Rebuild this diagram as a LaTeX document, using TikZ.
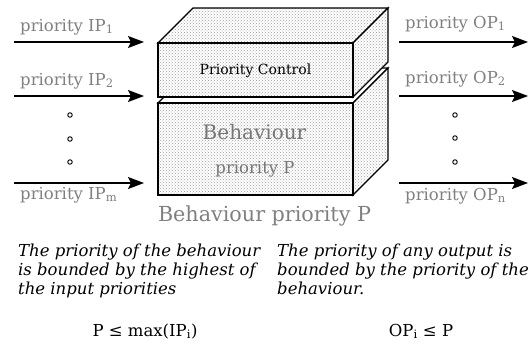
\documentclass[tikz,border=0pt]{standalone}
\usepackage{fontspec}
\setmainfont{DejaVu Serif}
\usetikzlibrary{arrows.meta,patterns}
\definecolor{labelgray}{RGB}{128,128,128}
\definecolor{inkgray}{RGB}{118,118,118}
\begin{document}
\begin{tikzpicture}[x=1pt,y=-1pt,
  face/.style={draw=black, line width=1.3pt, line join=miter,
    preaction={fill=white}, pattern=crosshatch dots, pattern color=gray!75},
  gapface/.style={draw=black, line width=1.3pt, fill=white},
  flow/.style={line width=1.4pt, -{Stealth[length=16pt,width=12pt,inset=3pt]}},
  port/.style={text=labelgray, font=\fontsize{16.5}{18}\selectfont, inner sep=0pt, anchor=base west},
  ellip/.style={circle, draw, line width=0.9pt, minimum size=4.5pt, inner sep=0pt},
  note/.style={font=\itshape\fontsize{16.5}{18.8}\selectfont, align=left, anchor=north west, inner sep=0pt},
  formula/.style={font=\fontsize{16.5}{18}\selectfont, anchor=base, inner sep=0pt},
]
\useasboundingbox (0,0) rectangle (529,343);

% ---- lower block: Behaviour ----
\path[gapface] (158,103) -- (353,103) -- (388,68) -- (193,68) -- cycle;
\path[face] (353,103) -- (388,68) -- (388,160) -- (353,195) -- cycle;
\path[face] (158,103) rectangle (353,195);

% ---- upper block: Priority Control ----
\path[face] (158,43) -- (353,43) -- (388,8) -- (193,8) -- cycle;
\path[face] (353,43) -- (388,8) -- (388,62) -- (353,97) -- cycle;
\path[face] (158,43) rectangle (353,97);

% block texts
\node[font=\fontsize{14}{16}\selectfont, inner sep=0pt, anchor=base] (pc) at (255.5,74) {Priority Control};
\node[text=inkgray, font=\fontsize{20}{22}\selectfont, inner sep=0pt, anchor=base] (bh) at (254.5,139) {Behaviour};
\node[text=inkgray, font=\fontsize{16.5}{18}\selectfont, inner sep=0pt, anchor=base] (bp) at (255,173) {priority P};
\node[text=labelgray, font=\fontsize{20.7}{22}\selectfont, inner sep=0pt, anchor=base] (title) at (264.5,221) {Behaviour priority P};

% ---- inputs ----
\coordinate (i1s) at (14,42);  \coordinate (i1e) at (144,42);
\coordinate (i2s) at (14,96);  \coordinate (i2e) at (144,96);
\coordinate (ims) at (14,183); \coordinate (ime) at (144,183);
\draw[flow] (i1s) -- (i1e);
\draw[flow] (i2s) -- (i2e);
\draw[flow] (ims) -- (ime);
\node[port] (ip1) at (20,31) {priority IP\textsubscript{1}};
\node[port] (ip2) at (20,85) {priority IP\textsubscript{2}};
\node[port] (ipm) at (20,199) {priority IP\textsubscript{m}};
\node[ellip] (id1) at (70,115) {};
\node[ellip] (id2) at (70,139) {};
\node[ellip] (id3) at (70,162) {};

% ---- outputs ----
\coordinate (o1s) at (399,42);  \coordinate (o1e) at (528,42);
\coordinate (o2s) at (399,96);  \coordinate (o2e) at (528,96);
\coordinate (ons) at (399,183); \coordinate (one) at (528,183);
\draw[flow] (o1s) -- (o1e);
\draw[flow] (o2s) -- (o2e);
\draw[flow] (ons) -- (one);
\node[port] (op1) at (405,28) {priority OP\textsubscript{1}};
\node[port] (op2) at (405,83) {priority OP\textsubscript{2}};
\node[port] (opn) at (405,200) {priority OP\textsubscript{n}};
\node[ellip] (od1) at (455,115) {};
\node[ellip] (od2) at (455,138) {};
\node[ellip] (od3) at (455,162) {};

% ---- notes ----
\node[note] (nl) at (18,244) {The priority of the behaviour\\is bounded by the highest of\\the input priorities};
\node[note] (nr) at (277,244) {The priority of any output is\\bounded by the priority of the\\behaviour.};
\node[formula] (fl) at (145,336) {P ≤ max(IP\textsubscript{i})};
\node[formula] (fr) at (421,336) {OP\textsubscript{i} ≤ P};
\end{tikzpicture}
\end{document}
